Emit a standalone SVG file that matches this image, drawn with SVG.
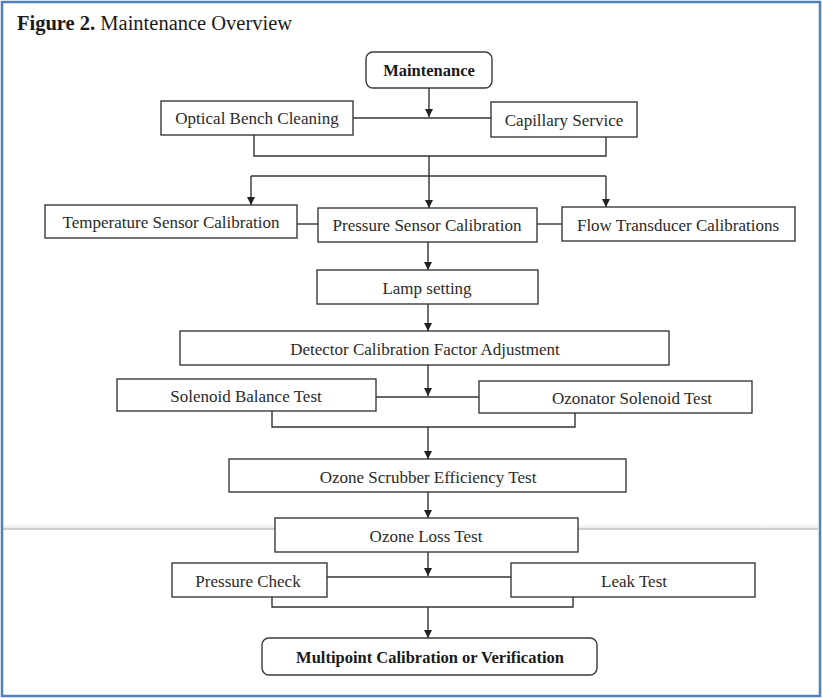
<svg xmlns="http://www.w3.org/2000/svg" width="822" height="698" viewBox="0 0 822 698">
  <style>
    .box { fill: #ffffff; stroke: #3a3a3a; stroke-width: 1.4; }
    .lbl { font-family: "Liberation Serif", "Times New Roman", serif; font-size: 17px; fill: #2a2a2a; text-anchor: middle; }
    .bold { font-weight: bold; fill: #1a1a1a; font-size: 16.5px; }
    .wire { fill: none; stroke: #333333; stroke-width: 1.4; }
    .arrow { fill: none; stroke: #333333; stroke-width: 1.4; marker-end: url(#head); }
  </style>
  <defs>
    <marker id="head" viewBox="0 0 10 10" refX="10" refY="5" markerWidth="8" markerHeight="8" markerUnits="userSpaceOnUse" orient="auto">
      <path d="M0,0 L10,5 L0,10 Z" fill="#222222"/>
    </marker>
    <linearGradient id="haze" x1="0" y1="0" x2="0" y2="1">
      <stop offset="0" stop-color="#ffffff" stop-opacity="0"/>
      <stop offset="1" stop-color="#e4e4e4" stop-opacity="0.8"/>
    </linearGradient>
  </defs>

  <!-- page background and frame -->
  <rect x="0" y="0" width="822" height="698" fill="#ffffff"/>
  <rect x="3" y="522" width="815" height="6" fill="url(#haze)"/>
  <line x1="3" y1="529" x2="818" y2="529" stroke="#cfcfcf" stroke-width="2"/>
  <rect x="2" y="2" width="818" height="694" fill="none" stroke="#4f81bd" stroke-width="2.5"/>

  <!-- title -->
  <text x="17" y="30" font-family="Liberation Serif, Times New Roman, serif" font-size="20.5" fill="#1a1a1a"><tspan font-weight="bold">Figure 2.</tspan> Maintenance Overview</text>

  <!-- connectors -->
  <g id="connectors">
    <path class="arrow" d="M429,88 V117"/>
    <path class="wire" d="M353,118 H491"/>
    <path class="wire" d="M254,135 V156 H606 V137"/>
    <path class="wire" d="M429,156 V176"/>
    <path class="wire" d="M251,176 H606"/>
    <path class="arrow" d="M251,176 V205"/>
    <path class="arrow" d="M429,176 V208"/>
    <path class="arrow" d="M606,176 V207"/>
    <path class="wire" d="M297,224 H318"/>
    <path class="wire" d="M537,224 H562"/>
    <path class="arrow" d="M428,242 V270"/>
    <path class="arrow" d="M428,304 V331"/>
    <path class="arrow" d="M428,365 V396"/>
    <path class="wire" d="M376,397 H479"/>
    <path class="wire" d="M272,411 V427 H575 V413"/>
    <path class="arrow" d="M428,427 V459"/>
    <path class="arrow" d="M428,492 V518"/>
    <path class="arrow" d="M428,552 V576"/>
    <path class="wire" d="M327,577 H511"/>
    <path class="wire" d="M272,597 V607 H573 V597"/>
    <path class="arrow" d="M428,607 V638"/>
  </g>

  <!-- nodes -->
  <g id="maintenance">
    <rect class="box" x="366" y="52" width="126" height="36" rx="7"/>
    <text class="lbl bold" x="429" y="76">Maintenance</text>
  </g>
  <g id="optical-bench">
    <rect class="box" x="161" y="101" width="192" height="34"/>
    <text class="lbl" x="257" y="124">Optical Bench Cleaning</text>
  </g>
  <g id="capillary">
    <rect class="box" x="491" y="102" width="146" height="35"/>
    <text class="lbl" x="564" y="126">Capillary Service</text>
  </g>
  <g id="temperature">
    <rect class="box" x="45" y="205" width="252" height="33"/>
    <text class="lbl" x="171" y="228">Temperature Sensor Calibration</text>
  </g>
  <g id="pressure-sensor">
    <rect class="box" x="318" y="208" width="219" height="34"/>
    <text class="lbl" x="427" y="231">Pressure Sensor Calibration</text>
  </g>
  <g id="flow">
    <rect class="box" x="562" y="207" width="233" height="34"/>
    <text class="lbl" x="678" y="231">Flow Transducer Calibrations</text>
  </g>
  <g id="lamp">
    <rect class="box" x="317" y="270" width="221" height="34"/>
    <text class="lbl" x="427" y="294">Lamp setting</text>
  </g>
  <g id="detector">
    <rect class="box" x="180" y="331" width="489" height="34"/>
    <text class="lbl" x="425" y="355">Detector Calibration Factor Adjustment</text>
  </g>
  <g id="solenoid-balance">
    <rect class="box" x="117" y="379" width="259" height="32"/>
    <text class="lbl" x="246" y="402">Solenoid Balance Test</text>
  </g>
  <g id="ozonator">
    <rect class="box" x="479" y="381" width="273" height="32"/>
    <text class="lbl" x="632" y="404">Ozonator Solenoid Test</text>
  </g>
  <g id="scrubber">
    <rect class="box" x="229" y="459" width="397" height="33"/>
    <text class="lbl" x="428" y="483">Ozone Scrubber Efficiency Test</text>
  </g>
  <g id="ozone-loss">
    <rect class="box" x="275" y="518" width="303" height="34"/>
    <text class="lbl" x="426" y="542">Ozone Loss Test</text>
  </g>
  <g id="pressure-check">
    <rect class="box" x="172" y="563" width="155" height="34"/>
    <text class="lbl" x="248" y="587">Pressure Check</text>
  </g>
  <g id="leak">
    <rect class="box" x="511" y="563" width="244" height="34"/>
    <text class="lbl" x="634" y="587">Leak Test</text>
  </g>
  <g id="multipoint">
    <rect class="box" x="262" y="638" width="335" height="37" rx="7"/>
    <text class="lbl bold" x="430" y="663">Multipoint Calibration or Verification</text>
  </g>
</svg>
